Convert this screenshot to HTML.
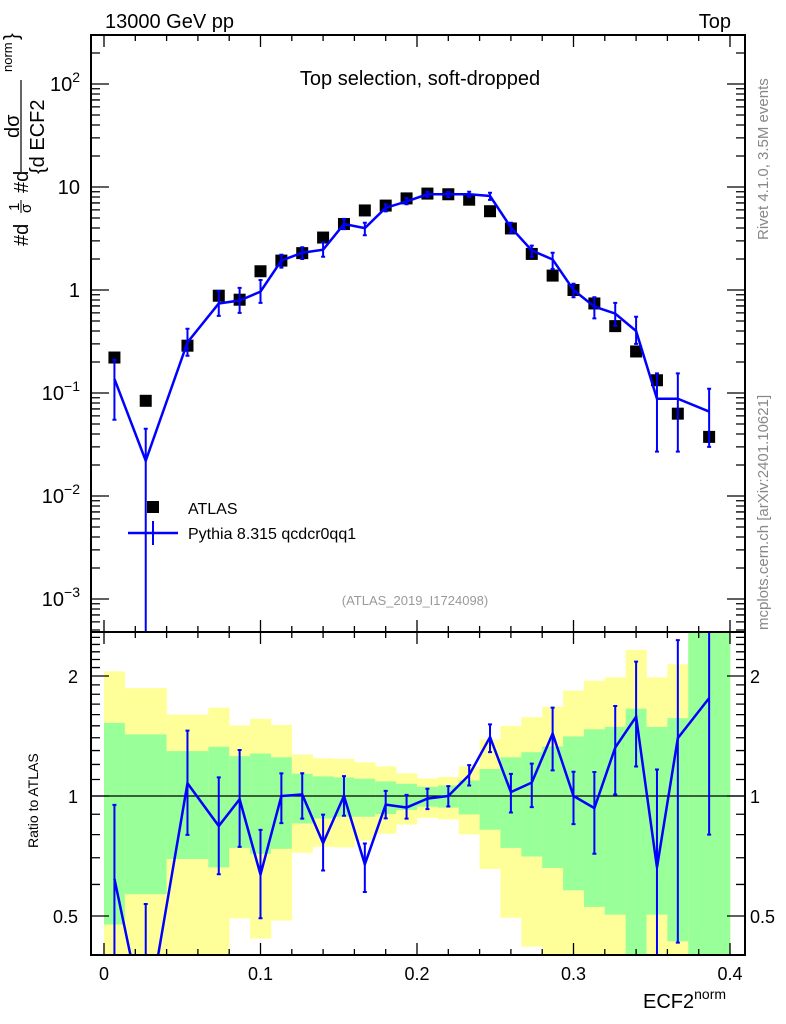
<!DOCTYPE html>
<html><head><meta charset="utf-8"><style>
html,body{margin:0;padding:0;background:#fff;overflow:hidden;width:786px;height:1024px;}
svg{display:block;font-family:"Liberation Sans",sans-serif;}
</style></head><body>
<svg id="chart" width="786" height="1024" xmlns="http://www.w3.org/2000/svg">
<defs>
<clipPath id="cm"><rect x="91" y="35" width="654" height="597"/></clipPath>
<clipPath id="cr"><rect x="91" y="632" width="654" height="323"/></clipPath>
</defs>
<g id="bands" clip-path="url(#cr)"></g>
<g id="marks"></g>
<g id="axes"></g>
<text x="105" y="28" font-size="20">13000 GeV pp</text>
<text x="731" y="28" font-size="20" text-anchor="end">Top</text>
<text x="420" y="85" font-size="20" text-anchor="middle">Top selection, soft-dropped</text>
<rect x="147" y="501" width="12" height="12" fill="#000"/>
<text x="188" y="514" font-size="16">ATLAS</text>
<line x1="128" y1="533" x2="178" y2="533" stroke="#0000ff" stroke-width="2.5"/>
<line x1="153" y1="521" x2="153" y2="545" stroke="#0000ff" stroke-width="2"/>
<text x="188" y="539" font-size="16">Pythia 8.315 qcdcr0qq1</text>
<text x="415" y="605" font-size="13" fill="#999" text-anchor="middle">(ATLAS_2019_I1724098)</text>
<text transform="translate(768,240) rotate(-90)" font-size="15" fill="#888">Rivet 4.1.0,  3.5M events</text>
<text transform="translate(768,630) rotate(-90)" font-size="15" fill="#888">mcplots.cern.ch [arXiv:2401.10621]</text>
<g font-size="20">
<text transform="translate(28,246) rotate(-90)">#d</text>
<text transform="translate(19,211) rotate(-90)" font-size="15">1</text>
<line x1="21" y1="200" x2="21" y2="213" stroke="#000" stroke-width="1"/>
<text transform="translate(31,213) rotate(-90)" font-size="15">σ</text>
<text transform="translate(28,193) rotate(-90)">#d</text>
<text transform="translate(19,138) rotate(-90)">dσ</text>
<line x1="21" y1="172" x2="21" y2="80" stroke="#000" stroke-width="1.2"/>
<text transform="translate(44,174) rotate(-90)">{d ECF2</text>
<text transform="translate(12,72) rotate(-90)" font-size="13">norm</text>
<text transform="translate(18,40) rotate(-90)">}</text>
</g>
<text transform="translate(38,848) rotate(-90)" font-size="14">Ratio to ATLAS</text>
<text x="643" y="1008" font-size="20">ECF2<tspan font-size="14" dy="-9">norm</tspan></text>
</svg>
<script>
const binEdges=[0,0.01333,0.04,0.06667,0.08,0.09333,0.10667,0.12,0.13333,0.14667,0.16,0.17333,0.18667,0.2,0.21333,0.22667,0.24,0.25333,0.26667,0.28,0.29333,0.30667,0.32,0.33333,0.34667,0.36,0.37333,0.4];
const dataVals=[0.221,0.084,0.288,0.88,0.805,1.52,1.93,2.28,3.23,4.37,5.92,6.6,7.75,8.63,8.5,7.53,5.82,3.96,2.24,1.38,1.0,0.74,0.446,0.253,0.133,0.063,0.0375];
const mcVals=[0.137,0.022,0.31,0.74,0.79,0.965,1.93,2.30,2.46,4.37,3.99,6.28,7.25,8.5,8.5,8.5,8.18,4.05,2.42,1.98,1.0,0.69,0.59,0.40,0.088,0.088,0.066];
const mcHi=[0.21,0.045,0.42,0.98,1.05,1.25,2.2,2.6,2.9,4.9,4.5,6.8,7.8,9.0,9.0,9.0,8.8,4.5,2.7,2.3,1.15,0.85,0.75,0.55,0.155,0.155,0.11];
const mcLo=[0.055,0.0003,0.23,0.56,0.6,0.75,1.65,2.0,2.1,3.9,3.4,5.8,6.8,8.0,8.0,8.0,7.5,3.6,2.1,1.6,0.85,0.53,0.45,0.3,0.027,0.027,0.03];
const yelHi=[2.055,1.865,1.60,1.666,1.503,1.562,1.508,1.271,1.244,1.239,1.215,1.187,1.140,1.107,1.116,1.187,1.387,1.500,1.577,1.675,1.839,1.946,1.985,2.327,1.985,2.141,3];
const grnHi=[1.526,1.428,1.296,1.329,1.259,1.278,1.251,1.137,1.120,1.113,1.105,1.088,1.073,1.054,1.063,1.094,1.169,1.251,1.288,1.331,1.411,1.470,1.491,1.656,1.491,1.568,3];
const grnLo=[0.476,0.567,0.695,0.662,0.741,0.716,0.737,0.853,0.878,0.887,0.887,0.901,0.922,0.940,0.935,0.899,0.823,0.741,0.705,0.660,0.580,0.527,0.504,0.3,0.504,0.432,0.3];
const yelLo=[0.3,0.3,0.3,0.3,0.493,0.439,0.487,0.720,0.746,0.743,0.774,0.804,0.848,0.881,0.873,0.801,0.656,0.495,0.419,0.3,0.3,0.3,0.3,0.3,0.3,0.3,0.3];
const xTicks=[0,0.1,0.2,0.3,0.4];
const xTickLabels=["0","0.1","0.2","0.3","0.4"];
const yDecades=[-3,-2,-1,0,1,2];
const yDecadeLabels=["10^-3","10^-2","10^-1","1","10","10^2"];
const rTicks=[0.5,1,2];
const rTickLabels=["0.5","1","2"];

const NS="http://www.w3.org/2000/svg";
const X=v=>104+v*1565;
const Y=v=>290-103*Math.log10(v);
const R=v=>796-398.6*Math.log10(v);
const L=91,RT=745,T=35,MB=632,RB=955;
function mk(tag,attrs,parent){const e=document.createElementNS(NS,tag);for(const k in attrs)e.setAttribute(k,attrs[k]);parent.appendChild(e);return e;}
const bands=document.getElementById('bands'),marks=document.getElementById('marks'),axes=document.getElementById('axes');

for(let i=0;i<dataVals.length;i++){
  const x0=X(binEdges[i]),x1=X(binEdges[i+1]);
  let r=mk('rect',{x:x0,y:R(yelHi[i]),width:x1-x0+0.3,height:R(yelLo[i])-R(yelHi[i]),fill:'#ffff99'},bands);
  
  
  let g=mk('rect',{x:x0,y:R(grnHi[i]),width:x1-x0+0.3,height:R(grnLo[i])-R(grnHi[i]),fill:'#99ff99'},bands);
  
  
}
const ln=mk('line',{x1:L,y1:R(1),x2:RT,y2:R(1),stroke:'#000','stroke-width':1.2},marks);



const gm=mk('g',{'clip-path':'url(#cm)'},marks);
const gr=mk('g',{'clip-path':'url(#cr)'},marks);
let pm=[],pr=[];
for(let i=0;i<dataVals.length;i++){
  const xc=X((binEdges[i]+binEdges[i+1])/2);
  const sq=mk('rect',{x:xc-6,y:Y(dataVals[i])-6,width:12,height:12,fill:'#000'},gm);
  
  
  pm.push(xc+','+Y(mcVals[i]));
  pr.push(xc+','+R(mcVals[i]/dataVals[i]));
  const e1=mk('path',{d:`M${xc},${Y(mcHi[i])}V${Y(mcLo[i])}M${xc-2},${Y(mcHi[i])}h4M${xc-2},${Y(mcLo[i])}h4`,stroke:'#0000ff','stroke-width':2,fill:'none'},gm);
  
  
  const rh=mcHi[i]/dataVals[i],rl=mcLo[i]/dataVals[i];
  const e2=mk('path',{d:`M${xc},${R(rh)}V${R(rl)}M${xc-2},${R(rh)}h4M${xc-2},${R(rl)}h4`,stroke:'#0000ff','stroke-width':2,fill:'none'},gr);
  
  
}
const l1=mk('polyline',{points:pm.join(' '),stroke:'#0000ff','stroke-width':2.5,fill:'none'},gm);


const l2=mk('polyline',{points:pr.join(' '),stroke:'#0000ff','stroke-width':2.5,fill:'none'},gr);



for(const [t,b,n] of [[T,MB,'main-frame'],[MB,RB,'ratio-frame']]){
  const f=mk('rect',{x:L,y:t,width:RT-L,height:b-t,fill:'none',stroke:'#000','stroke-width':2},axes);
  
  
}
let d='';
for(let v=0;v<=0.4001;v+=0.02){
  const x=X(v),maj=Math.abs(v*10-Math.round(v*10))<1e-6,len=maj?12:6;
  for(const [t,b] of [[T,MB],[MB,RB]]){d+=`M${x},${b}v${-len}M${x},${t}v${len}`;}
}
for(let dec=-4;dec<=2;dec++){
  for(let m=1;m<=9;m++){
    const v=m*Math.pow(10,dec),y=Y(v);if(y<T||y>MB)continue;
    const len=m===1?18:9;d+=`M${L},${y}h${len}M${RT},${y}h${-len}`;
  }
}
for(let v=0.4;v<=2.51;v+=0.1){
  const y=R(v);if(y<MB||y>RB)continue;
  const maj=rTicks.some(t=>Math.abs(t-v)<1e-6),len=maj?18:9;
  d+=`M${L},${y}h${len}M${RT},${y}h${-len}`;
}
const tk=mk('path',{d:d,stroke:'#000','stroke-width':1.3,fill:'none'},axes);



xTicks.forEach((v,i)=>{
  const t=mk('text',{x:X(v),y:980,'font-size':18,'text-anchor':'middle'},axes);
  t.textContent=xTickLabels[i];
  
  
});
yDecades.forEach((dec,i)=>{
  const y=Y(Math.pow(10,dec));
  const t=mk('text',{x:80,y:y+7,'font-size':20,'text-anchor':'end'},axes);
  const lab=yDecadeLabels[i];
  if(lab.includes('^')){const [b,e]=lab.split('^');t.textContent=b;const s=mk('tspan',{'font-size':14,dy:-9},t);s.textContent=e.replace('-','−');}
  else t.textContent=lab;
  
  
});
rTicks.forEach((v,i)=>{
  for(const [x,a] of [[78,'end'],[750,'start']]){
    const t=mk('text',{x:x,y:R(v)+7,'font-size':18,'text-anchor':a},axes);
    t.textContent=rTickLabels[i];
    
    
  }
});
</script>
</body></html>
